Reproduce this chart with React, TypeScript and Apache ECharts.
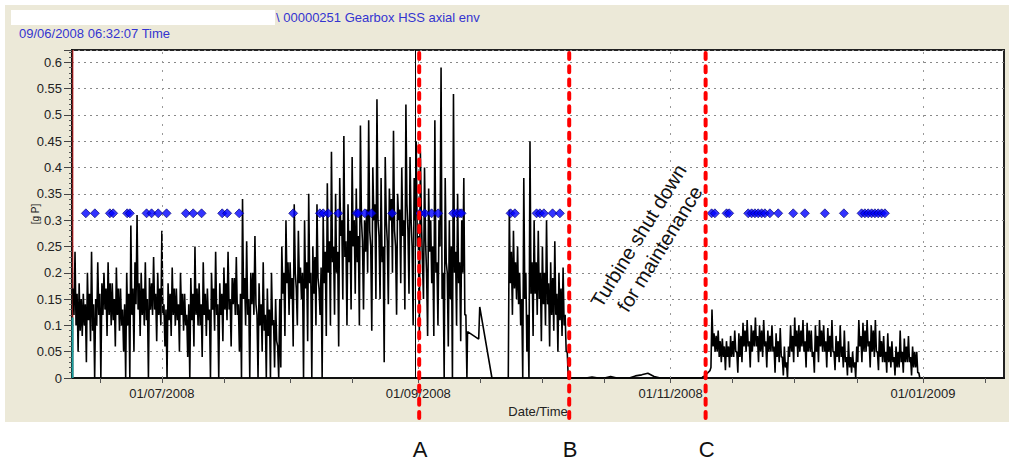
import { useEffect, useRef } from "react";
import * as echarts from "echarts";

const FONT = '"Liberation Sans", Arial, Helvetica, sans-serif';

// x values are days since 01/01/2008 (day 0 = 1 Jan 2008)
const X_MIN = 160.272; // 09/06/2008 06:32:07
const X_MAX = 385.6;
const Y_MAX = 0.6234;
const Y_INTERVAL = 0.05;

const tickDays = [167, 182, 197, 213, 228, 244, 259, 274, 289, 305, 320, 335, 350, 366, 381];
const labelDays = [182, 244, 305, 366];
const labelTexts = ["01/07/2008", "01/09/2008", "01/11/2008", "01/01/2009"];

// envelope trace, sampled every 6 hours (alternating upper / lower readings)
const seg1Start = 160.5;
const seg1Step = 0.25;
const seg1Values = [
  0.17, 0.12, 0.24, 0.1, 0.16, 0.05, 0.18, 0.09, 0.15, 0.08, 0.16, 0.1, 0.14, 0.03, 0.2, 0.11, 0.16, 0.07,
  0.24, 0.09, 0.14, 0.0, 0.15, 0.1, 0.22, 0.12, 0.16, 0.0,
  0.18, 0.12, 0.2, 0.13, 0.17, 0.08, 0.22, 0.12, 0.18, 0.1, 0.18, 0.11, 0.15, 0.06, 0.21, 0.12, 0.17, 0.09, 0.17, 0.1, 0.13, 0.05, 0.14, 0.0,
  0.2, 0.1, 0.16, 0.0, 0.29, 0.12, 0.17, 0.05, 0.22, 0.14, 0.31, 0.13, 0.18, 0.08,
  0.2, 0.12, 0.17, 0.1, 0.22, 0.11, 0.15, 0.0, 0.19, 0.13, 0.18, 0.12, 0.23, 0.13, 0.16, 0.07, 0.2, 0.12, 0.17, 0.1, 0.28, 0.12, 0.14, 0.06,
  0.13, 0.0, 0.18, 0.11, 0.16, 0.08, 0.21, 0.12, 0.17, 0.1, 0.17, 0.11, 0.14, 0.05, 0.2, 0.12, 0.16, 0.09, 0.16, 0.1, 0.12, 0.04, 0.14, 0.0,
  0.19, 0.11, 0.16, 0.06, 0.25, 0.12, 0.17, 0.1, 0.18, 0.1, 0.14, 0.04, 0.22, 0.12, 0.16, 0.08, 0.17, 0.11, 0.13, 0.0, 0.2, 0.13, 0.17, 0.09, 0.24, 0.12,
  0.14, 0.0, 0.18, 0.12, 0.16, 0.07, 0.21, 0.13, 0.18, 0.11, 0.24, 0.13, 0.15, 0.06, 0.19, 0.14, 0.19, 0.12, 0.23, 0.12, 0.14, 0.05, 0.16, 0.0,
  0.34, 0.15, 0.19, 0.1, 0.26, 0.12, 0.15, 0.0, 0.2, 0.14, 0.2, 0.12, 0.27, 0.14, 0.12, 0.0, 0.18, 0.1,
  0.14, 0.05, 0.22, 0.09, 0.12, 0.0, 0.17, 0.08, 0.13, 0.0, 0.2, 0.1, 0.11, 0.02, 0.15, 0.07, 0.06, 0.0, 0.15, 0.02,
  0.25, 0.16, 0.2, 0.08, 0.3, 0.18, 0.22, 0.12, 0.22, 0.15, 0.19, 0.06, 0.33, 0.2, 0.17, 0.1, 0.28, 0.18, 0.21, 0.15,
  0.2, 0.0, 0.3, 0.17, 0.22, 0.07, 0.35, 0.18, 0.2, 0.0, 0.25, 0.16, 0.23, 0.1, 0.33, 0.19, 0.17, 0.12, 0.21, 0.0, 0.31, 0.18, 0.24, 0.08, 0.37, 0.2, 0.26, 0.1,
  0.43, 0.22, 0.25, 0.12, 0.35, 0.2, 0.24, 0.06, 0.38, 0.27, 0.3, 0.15, 0.46, 0.23, 0.26, 0.1, 0.33, 0.22, 0.28, 0.13,
  0.42, 0.25, 0.3, 0.16, 0.36, 0.22, 0.27, 0.1, 0.48, 0.3, 0.26, 0.13, 0.3, 0.24, 0.32, 0.2, 0.49, 0.28, 0.25, 0.09, 0.4, 0.3, 0.33, 0.15,
  0.53, 0.3, 0.27, 0.15, 0.38, 0.22, 0.25, 0.03, 0.42, 0.3, 0.26, 0.14, 0.36, 0.3, 0.34, 0.2, 0.47, 0.28, 0.25, 0.12,
  0.35, 0.3, 0.32, 0.18, 0.4, 0.27, 0.3, 0.13, 0.52, 0.33, 0.28, 0.16, 0.42, 0.3, 0.25, 0.1, 0.38, 0.3,
  0.45, 0.25, 0.27, 0.08, 0.43, 0.3, 0.22, 0.15, 0.4, 0.26, 0.2, 0.08, 0.36, 0.24,
  0.3, 0.18, 0.25, 0.08, 0.49, 0.2, 0.22, 0.1, 0.3, 0.25, 0.59, 0.15, 0.2, 0.0, 0.38, 0.22,
  0.2, 0.06, 0.3, 0.15, 0.25, 0.0, 0.54, 0.2, 0.24, 0.1, 0.35, 0.18, 0.22, 0.07, 0.3, 0.2, 0.38, 0.12, 0.12, 0.0,
];
const seg1Tail = [
  [255.9, 0.088],
  [258.6, 0.074],
  [258.85, 0.135],
  [261.8, 0.0],
  [265.2, 0.0],
];
const seg2Start = 265.5;
const seg2Step = 0.25;
const seg2Values = [
  0.0, 0.0,
  0.32, 0.18, 0.24, 0.12, 0.28, 0.17, 0.22, 0.15, 0.25, 0.14, 0.2, 0.1, 0.15, 0.0, 0.38, 0.15,
  0.2, 0.05, 0.12, 0.0, 0.45, 0.16, 0.22, 0.08, 0.3, 0.16, 0.22, 0.12, 0.28, 0.15, 0.2, 0.07,
  0.25, 0.14, 0.2, 0.1, 0.3, 0.14, 0.18, 0.06, 0.22, 0.12, 0.19, 0.09, 0.26, 0.12, 0.16, 0.05,
  0.2, 0.11, 0.17, 0.08, 0.21, 0.1, 0.12, 0.05, 0.05, 0.0,
];
const idleStart = 281.5;
const idleStep = 1.5;
const idleValues = [
  0, 0, 0, 0.002, 0, 0, 0.003, 0, 0, 0, 0.004, 0.006, 0.009, 0.003, 0, 0, 0, 0, 0, 0, 0,
];
const seg3Start = 312.5;
const seg3Step = 0.25;
const seg3Values = [
  0.0, 0.002, 0.003, 0.004, 0.006, 0.008, 0.01, 0.012, 0.014, 0.02,
  0.13, 0.06, 0.085, 0.05, 0.08, 0.05, 0.09, 0.04, 0.07, 0.03, 0.075, 0.04, 0.06, 0.015,
  0.07, 0.04, 0.06, 0.02, 0.08, 0.04, 0.07, 0.04, 0.09, 0.05, 0.05, 0.01, 0.085, 0.04,
  0.08, 0.03, 0.105, 0.06, 0.09, 0.05, 0.11, 0.06, 0.07, 0.02, 0.1, 0.05, 0.09, 0.06, 0.115, 0.06, 0.08, 0.03, 0.1, 0.05, 0.09, 0.04, 0.11, 0.06,
  0.07, 0.02, 0.09, 0.05, 0.08, 0.05, 0.1, 0.05, 0.06, 0.01, 0.085, 0.04, 0.07, 0.03, 0.095, 0.04, 0.04, 0.005, 0.06, 0.02,
  0.03, 0.0, 0.06, 0.04, 0.1, 0.05, 0.08, 0.03,
  0.115, 0.06, 0.09, 0.04, 0.1, 0.05, 0.09, 0.06, 0.11, 0.05, 0.07, 0.02, 0.105, 0.05, 0.09, 0.05, 0.09, 0.04, 0.05, 0.01, 0.1, 0.05,
  0.08, 0.03, 0.11, 0.06, 0.09, 0.05, 0.1, 0.05, 0.07, 0.02, 0.095, 0.05, 0.08, 0.04, 0.11, 0.05, 0.05, 0.015, 0.08, 0.04, 0.07, 0.03,
  0.1, 0.04, 0.06, 0.02, 0.09, 0.03, 0.04, 0.005, 0.07, 0.02, 0.04, 0.01, 0.05, 0.02, 0.03, 0.0,
  0.06, 0.03, 0.11, 0.06, 0.08, 0.03, 0.105, 0.05, 0.09, 0.05, 0.11, 0.06, 0.07, 0.02, 0.1, 0.05, 0.09, 0.04, 0.11, 0.05, 0.05, 0.015,
  0.09, 0.04, 0.07, 0.03, 0.08, 0.03, 0.05, 0.01, 0.085, 0.03, 0.06, 0.02, 0.07, 0.03, 0.04, 0.005, 0.06, 0.02, 0.05, 0.02,
  0.09, 0.03, 0.05, 0.01, 0.075, 0.03, 0.06, 0.03, 0.08, 0.03, 0.04, 0.005, 0.06, 0.02, 0.05, 0.02, 0.05, 0.01,
  0.01, 0.0,
];

// alarm events (blue diamonds)
const ALARM_LEVEL = 0.313;
const alarmDays = [
  163.62, 165.8, 169.43, 170.23, 173.61, 174.26, 178.3, 179.51, 181.11, 183.14,
  187.8, 189.57, 191.6, 196.58, 197.79, 200.69, 213.75, 220.2, 221.0, 222.21,
  224.63, 229.07, 229.46, 231.08, 232.7, 237.68, 244.38, 245.59, 247.21, 248.8,
  252.43, 253.25, 254.05, 254.46, 266.31, 267.35, 272.59, 273.39, 274.36, 276.46,
  278.23, 314.91, 315.7, 318.53, 319.16, 323.76, 324.58, 325.38, 326.17, 327.0,
  327.79, 329.0, 331.01, 334.64, 337.46, 342.3, 346.89, 351.17, 351.97, 352.77,
  353.59, 354.39, 355.19, 356.01, 356.81,
];

// edge traces at the left border
const redEdge = [
  [160.48, 0],
  [160.48, 0.6234],
];
const tealEdge = [
  [160.42, 0],
  [160.42, 0.115],
];

const cursorDay = 243.17;
const markers = [
  { label: "A", day: 244.21 },
  { label: "B", day: 280.48 },
  { label: "C", day: 313.46 },
];
const noteDay = 299.8;
const noteValue = 0.258;
const noteText = "Turbine shut down\nfor maintenance";

function buildTrace(): number[][] {
  const out: number[][] = [];
  seg1Values.forEach((v, i) => out.push([seg1Start + i * seg1Step, v]));
  seg1Tail.forEach((p) => out.push(p));
  seg2Values.forEach((v, i) => out.push([seg2Start + i * seg2Step, v]));
  idleValues.forEach((v, i) => out.push([idleStart + i * idleStep, v]));
  seg3Values.forEach((v, i) => out.push([seg3Start + i * seg3Step, v]));
  return out;
}

export default function App() {
  const ref = useRef<HTMLDivElement>(null);

  useEffect(() => {
    document.body.style.margin = "0";
    const chart = echarts.init(ref.current!, undefined, { renderer: "svg" });

    const baseGraphics: any[] = [
      {
        type: "rect",
        id: "bg",
        z: -10,
        silent: true,
        shape: { x: 5, y: 5, width: 1004, height: 417 },
        style: { fill: "#ECE9D8" },
      },
      {
        type: "rect",
        id: "redact",
        shape: { x: 11, y: 10, width: 264, height: 15 },
        style: { fill: "#ffffff" },
      },
      {
        type: "text",
        id: "h1",
        x: 276,
        y: 17,
        style: {
          text: "\\ 00000251 Gearbox HSS axial env",
          fill: "#3434d0",
          fontSize: 13,
          fontFamily: FONT,
          verticalAlign: "middle",
        },
      },
      {
        type: "text",
        id: "h2",
        x: 19,
        y: 33,
        style: {
          text: "09/06/2008 06:32:07 Time",
          fill: "#3434d0",
          fontSize: 13,
          fontFamily: FONT,
          verticalAlign: "middle",
        },
      },
    ];

    chart.setOption({
      animation: false,
      backgroundColor: "#ffffff",
      grid: {
        left: 72,
        right: 5,
        top: 50,
        bottom: 83,
        show: true,
        backgroundColor: "#ffffff",
        borderColor: "#222",
        borderWidth: 2,
        outerBoundsMode: "none",
      },
      xAxis: {
        type: "value",
        min: X_MIN,
        max: X_MAX,
        name: "Date/Time",
        nameLocation: "middle",
        nameGap: 25,
        nameTextStyle: { fontSize: 13, fontFamily: FONT, color: "#222" },
        axisLine: { show: true, onZero: false, lineStyle: { color: "#111", width: 2 } },
        axisTick: { show: true, customValues: tickDays, length: 5, lineStyle: { color: "#555" } },
        axisLabel: {
          customValues: labelDays,
          margin: 9,
          fontSize: 13,
          fontFamily: FONT,
          color: "#222",
          formatter: (v: number) => {
            const i = labelDays.findIndex((d) => Math.abs(d - v) < 0.01);
            return i >= 0 ? labelTexts[i] : "";
          },
        },
        splitLine: { show: false },
      },
      yAxis: {
        type: "value",
        min: 0,
        max: Y_MAX,
        interval: Y_INTERVAL,
        name: "[g P]",
        nameLocation: "middle",
        nameGap: 32,
        nameRotate: 90,
        nameMoveOverlap: false,
        nameTextStyle: { fontSize: 10, fontFamily: FONT, color: "#222" },
        axisLine: { show: true, lineStyle: { color: "#111", width: 2 } },
        axisTick: { show: true, length: 8, lineStyle: { color: "#444" } },
        minorTick: { show: true, splitNumber: 5, length: 3, lineStyle: { color: "#555" } },
        axisLabel: {
          margin: 10,
          fontSize: 13,
          fontFamily: FONT,
          color: "#222",
          formatter: (v: number) => {
            const k = Math.round(v / Y_INTERVAL);
            if (Math.abs(k * Y_INTERVAL - v) > 1e-6) return "";
            return String(Math.round(v * 100) / 100);
          },
        },
        splitLine: { show: true, lineStyle: { color: "#888", type: [2, 4], width: 1 } },
      },
      series: [
        {
          type: "line",
          name: "edge",
          data: redEdge,
          symbol: "none",
          z: 1,
          lineStyle: { color: "#c81e1e", width: 1 },
          markLine: {
            silent: true,
            symbol: ["none", "none"],
            label: { show: false },
            lineStyle: { color: "#999", type: [2, 7], width: 1 },
            data: labelDays.map((d) => ({ xAxis: d })),
          },
        },
        {
          type: "line",
          name: "teal",
          data: tealEdge,
          symbol: "none",
          z: 1,
          lineStyle: { color: "#1aa0a0", width: 2 },
        },
        {
          type: "line",
          name: "trace",
          data: buildTrace(),
          symbol: "none",
          showSymbol: false,
          z: 3,
          lineStyle: { color: "#000", width: 1.6, join: "bevel" },
          markLine: {
            silent: true,
            symbol: ["none", "none"],
            label: { show: false },
            lineStyle: { color: "#000", type: "solid", width: 1 },
            data: [{ xAxis: cursorDay }],
          },
        },
        {
          type: "scatter",
          name: "alarms",
          data: alarmDays.map((d) => [d, ALARM_LEVEL]),
          symbol: "diamond",
          symbolSize: 9,
          z: 4,
          itemStyle: { color: "#0000ff", borderColor: "#000070", borderWidth: 0.8 },
        },
      ],
      graphic: { elements: baseGraphics },
    });

    const extra: any[] = [];
    const topY = chart.convertToPixel({ yAxisIndex: 0 }, Y_MAX) as number;
    markers.forEach((m, i) => {
      const px = chart.convertToPixel({ xAxisIndex: 0 }, m.day) as number;
      extra.push({
        type: "line",
        id: "mk" + i,
        z: 10,
        silent: true,
        shape: { x1: px, y1: topY + 3, x2: px, y2: 420 },
        style: { stroke: "#ff0000", lineWidth: 4, lineDash: [6, 7.3], lineCap: "round" },
      });
      extra.push({
        type: "text",
        id: "mt" + i,
        x: px + 1,
        y: 449,
        style: {
          text: m.label,
          fill: "#111",
          fontSize: 22,
          fontFamily: FONT,
          align: "center",
          verticalAlign: "middle",
        },
      });
    });
    const [nx, ny] = chart.convertToPixel({ gridIndex: 0 }, [noteDay, noteValue]) as number[];
    extra.push({
      type: "text",
      id: "note",
      x: nx,
      y: ny,
      z: 10,
      rotation: (58.3 * Math.PI) / 180,
      style: {
        text: noteText,
        fill: "#111",
        fontSize: 20,
        lineHeight: 25,
        fontFamily: FONT,
        align: "center",
        verticalAlign: "middle",
      },
    });
    chart.setOption({ graphic: { elements: [...baseGraphics, ...extra] } });

    return () => chart.dispose();
  }, []);

  return (
    <div
      ref={ref}
      style={{ position: "absolute", left: 0, top: 0, width: 1009, height: 461 }}
    />
  );
}
